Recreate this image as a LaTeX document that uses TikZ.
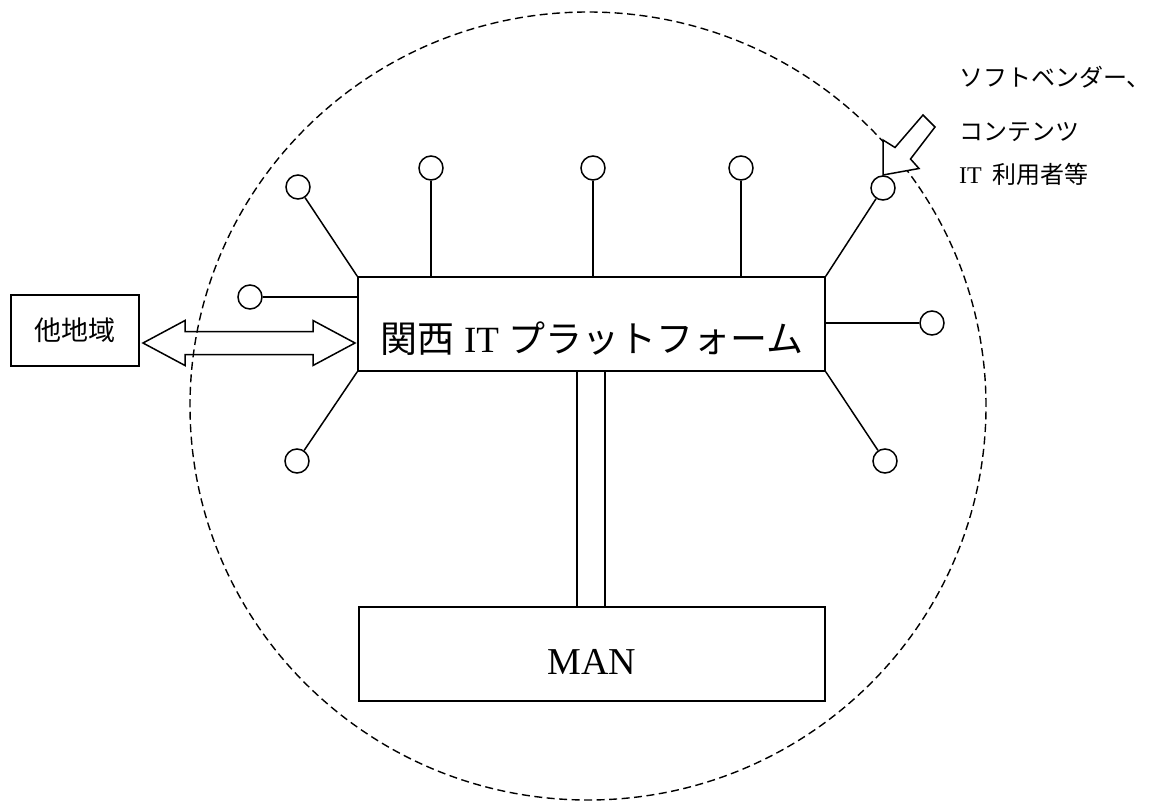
\documentclass[tikz,border=0pt]{standalone}
\usepackage{fontspec}
\setmainfont{Liberation Serif}
\newfontfamily\cjk{Noto Sans CJK JP}
\begin{document}
\begin{tikzpicture}[x=1pt,y=-1pt,
  box/.style={draw, line width=1.5pt, rectangle, inner sep=0pt},
  term/.style={circle, draw, line width=1.5pt, minimum size=24pt, inner sep=0pt},
  spoke/.style={line width=1.5pt},
  region/.style={dash pattern=on 8pt off 4.5pt, line width=1.4pt},
  blockarrow/.style={draw, line width=1.5pt, line join=miter},
  lbl/.style={anchor=west, inner sep=0pt, font=\fontsize{24}{27}\selectfont}
]
\useasboundingbox (0,0) rectangle (1153,802);

% dashed region
\draw[region] (588,406) ellipse [x radius=398pt, y radius=394pt];

% main boxes
\node[box, minimum width=467pt, minimum height=94pt] (kp) at (591.5,324) {};
\node[anchor=base, inner sep=0pt, font=\fontsize{37}{40}\selectfont] (kpt) at (592,352) {{\cjk 関西} IT {\cjk プラットフォーム}};
\node[box, minimum width=466pt, minimum height=94pt] (man) at (592,654) {};
\node[anchor=base, inner sep=0pt, font=\fontsize{38}{42}\selectfont] (mant) at (592,674) {MAN};
\node[box, minimum width=128pt, minimum height=71pt, font=\cjk\fontsize{27}{30}\selectfont] (other) at (75,330.5) {他地域};

% link to MAN (double line)
\coordinate (la) at (577,0);
\coordinate (lb) at (605,0);
\draw[spoke] (la |- kp.south) -- (la |- man.north);
\draw[spoke] (lb |- kp.south) -- (lb |- man.north);

% terminals
\node[term] (cTL) at (298,187) {};
\node[term] (cL)  at (250,297) {};
\node[term] (cBL) at (297,461) {};
\node[term] (cT1) at (431,168) {};
\node[term] (cT2) at (593,168) {};
\node[term] (cT3) at (741,168) {};
\node[term] (cTR) at (883,188) {};
\node[term] (cR)  at (932,323) {};
\node[term] (cBR) at (885,461) {};

\draw[spoke] (cTL) -- (kp.north west);
\draw[spoke] (cL) -- (cL -| kp.west);
\draw[spoke] (cBL) -- (kp.south west);
\draw[spoke] (cT1) -- (cT1 |- kp.north);
\draw[spoke] (cT2) -- (cT2 |- kp.north);
\draw[spoke] (cT3) -- (cT3 |- kp.north);
\draw[spoke] (cTR) -- (kp.north east);
\draw[spoke] (cR) -- (cR -| kp.east);
\draw[spoke] (cBR) -- (kp.south east);

% double block arrow between other region and platform
\draw[blockarrow] (143,343) -- (185,320.5) -- (185,331.5) -- (313,331.5) -- (313,320.5)
  -- (355,343) -- (313,365.5) -- (313,354.5) -- (185,354.5) -- (185,365.5) -- cycle;

% incoming block arrow (top right)
\draw[blockarrow, fill=white] (883,175) -- (919,168.5) -- (910.5,159) -- (935,127) -- (923,115)
  -- (895,147.5) -- (883,140) -- cycle;

% labels
\node[lbl] (t1) at (959,77) {\cjk ソフトベンダー、};
\node[lbl] (t2) at (959,132) {\cjk コンテンツ};
\node[lbl] (t3) at (959,174) {IT\hspace{0.45em}{\cjk 利用者等}};
\end{tikzpicture}
\end{document}
